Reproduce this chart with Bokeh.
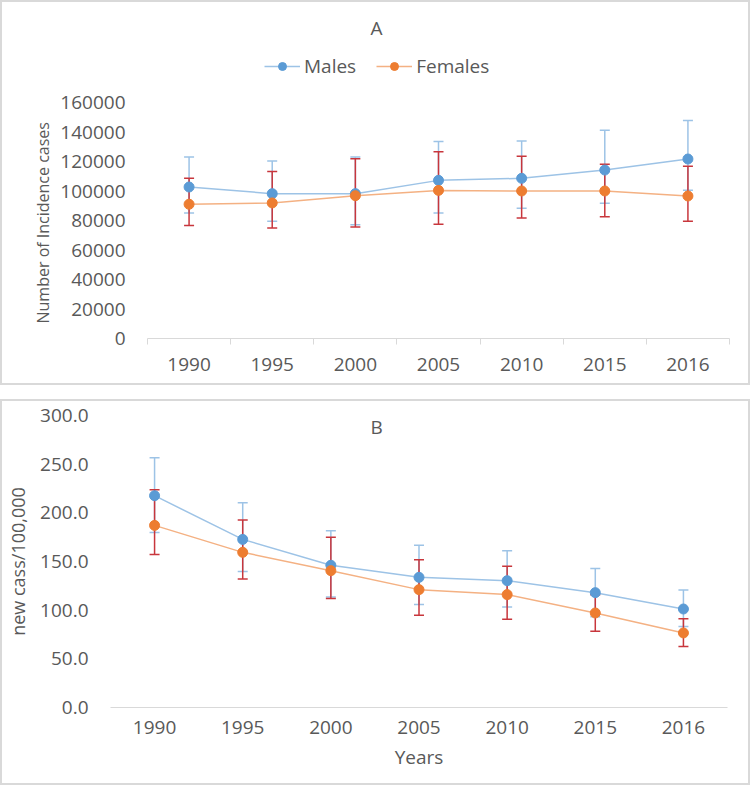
from bokeh.plotting import figure
from bokeh.models import (ColumnDataSource, Whisker, TeeHead, Legend, LegendItem, Label, Title,
                          FixedTicker, NumeralTickFormatter, Range1d)
from bokeh.layouts import column
from bokeh.embed import file_html
from bokeh.resources import INLINE

# ---------------- data ----------------
years = ["1990", "1995", "2000", "2005", "2010", "2015", "2016"]

# Panel A: number of incidence cases
males_cases = [102800, 98300, 98300, 107300, 108700, 114300, 121800]
males_cases_hi = [123200, 120400, 123200, 133600, 134000, 141300, 148000]
males_cases_lo = [85200, 79500, 77200, 85200, 88300, 91700, 100600]
females_cases = [91100, 92000, 96900, 100500, 100100, 100100, 96700]
females_cases_hi = [108700, 113400, 122000, 126800, 123600, 118200, 116900]
females_cases_lo = [76600, 75000, 75600, 77500, 81800, 82700, 79500]
ticks_a = [0, 20000, 40000, 60000, 80000, 100000, 120000, 140000, 160000]

# Panel B: new cases per 100,000
males_rate = [217.6, 172.7, 146.1, 133.7, 130.3, 118.0, 101.2]
males_rate_hi = [256.6, 210.4, 181.7, 166.6, 161.1, 142.7, 120.7]
males_rate_lo = [179.9, 139.6, 113.5, 105.7, 103.3, 93.3, 83.1]
females_rate = [187.1, 159.4, 140.6, 121.1, 116.0, 97.1, 76.6]
females_rate_hi = [223.7, 192.6, 174.8, 151.9, 145.0, 115.9, 91.3]
females_rate_lo = [157.3, 132.0, 111.9, 94.7, 90.6, 78.3, 62.6]
ticks_b = [0, 50, 100, 150, 200, 250, 300]

# ---------------- style ----------------
FONT = "Open Sans"
TXT = "#595959"
AXC = "#D9D9D9"
M_MARK, M_LINE, M_ERR = "#5B9BD5", "#9DC3E6", "#9DC3E6"
F_MARK, F_LINE, F_ERR = "#ED7D31", "#F4B183", "#C8363C"
FS = "19px"

xs = list(range(len(years)))
boundaries = [i - 0.5 for i in range(len(years) + 1)]
overrides = {i: y for i, y in zip(xs, years)}


def series(p, vals, lo, hi, errc):
    src = ColumnDataSource(dict(x=xs, y=vals, lo=lo, hi=hi))
    w = Whisker(base="x", upper="hi", lower="lo", source=src, level="underlay",
                line_color=errc, line_width=1.5,
                upper_head=TeeHead(size=10, line_color=errc, line_width=1.5),
                lower_head=TeeHead(size=10, line_color=errc, line_width=1.5))
    p.add_layout(w)
    return src


def style_common(p):
    p.background_fill_color = "white"
    p.border_fill_color = "white"
    p.outline_line_color = None
    p.xgrid.visible = False
    p.ygrid.visible = False
    ax = p.xaxis[0]
    ax.axis_line_color = AXC
    ax.axis_line_width = 1
    ax.major_tick_line_color = None
    ax.major_tick_out = 0
    ax.major_tick_in = 0
    ax.major_label_overrides = overrides
    ax.major_label_text_font = FONT
    ax.major_label_text_font_size = FS
    ax.major_label_text_color = TXT
    ay = p.yaxis[0]
    ay.axis_line_color = None
    ay.major_tick_line_color = None
    ay.minor_tick_line_color = None
    ay.major_tick_out = 0
    ay.major_tick_in = 0
    ay.major_label_standoff = 22
    ay.major_label_text_font = FONT
    ay.major_label_text_font_size = FS
    ay.major_label_text_color = TXT
    ay.axis_label_text_font = FONT
    ay.axis_label_text_font_size = "18px"
    ay.axis_label_text_font_style = "normal"
    ay.axis_label_text_color = TXT


BOX = {"border": "2px solid #D9D9D9"}

# ---------------- panel A ----------------
# the frame reaches the top of the panel so that title and legend sit inside it
A_TOP = 228000
pA = figure(width=746, height=381, output_backend="svg", toolbar_location=None,
            x_range=Range1d(-0.5, 6.5), y_range=Range1d(0, A_TOP), frame_align=False,
            min_border_left=145, min_border_right=19, min_border_top=0, min_border_bottom=45)
style_common(pA)
pA.xaxis.ticker = FixedTicker(ticks=xs, minor_ticks=boundaries)
pA.xaxis.minor_tick_line_color = AXC
pA.xaxis.minor_tick_out = 6
pA.xaxis.minor_tick_in = 0
pA.xaxis.major_label_standoff = 13
pA.yaxis.ticker = FixedTicker(ticks=ticks_a)
pA.yaxis.formatter = NumeralTickFormatter(format="0")
# y-axis title, laid along the 0..160000 span rather than the whole frame
pA.add_layout(Title(text="Number of Incidence cases", align="left", offset=15, standoff=7,
                    text_font=FONT, text_font_size="16px", text_font_style="normal",
                    text_color=TXT), "left")

srcAm = series(pA, males_cases, males_cases_lo, males_cases_hi, M_ERR)
srcAf = series(pA, females_cases, females_cases_lo, females_cases_hi, F_ERR)
lm = pA.line("x", "y", source=srcAm, line_color=M_LINE, line_width=1.5)
sm = pA.scatter("x", "y", source=srcAm, size=10, fill_color=M_MARK, line_color=M_MARK)
lf = pA.line("x", "y", source=srcAf, line_color=F_LINE, line_width=1.5)
sf = pA.scatter("x", "y", source=srcAf, size=10, fill_color=F_MARK, line_color=F_MARK)

legend = Legend(items=[LegendItem(label="Males", renderers=[lm, sm]),
                       LegendItem(label="Females", renderers=[lf, sf])],
                orientation="horizontal", location=(117, 259),
                glyph_width=36, glyph_height=20, label_standoff=4, spacing=20,
                padding=0, margin=0, border_line_color=None, background_fill_alpha=0,
                label_text_font=FONT, label_text_font_size=FS, label_text_color=TXT)
pA.add_layout(legend)
pA.add_layout(Label(x=2.255, y=211000, text="A", text_align="center", text_baseline="middle",
                    text_font=FONT, text_font_size=FS, text_color=TXT))

# ---------------- panel B ----------------
pB = figure(width=746, height=382, output_backend="svg", toolbar_location=None,
            x_range=Range1d(-0.5, 6.5), y_range=Range1d(0, 300), frame_align=False,
            min_border_left=108, min_border_right=21, min_border_top=14, min_border_bottom=76)
style_common(pB)
pB.xaxis.ticker = FixedTicker(ticks=xs)
pB.xaxis.minor_tick_line_color = None
pB.xaxis.major_label_standoff = 13
pB.xaxis.axis_label = "Years"
pB.xaxis.axis_label_standoff = 7
pB.xaxis.axis_label_text_font = FONT
pB.xaxis.axis_label_text_font_size = FS
pB.xaxis.axis_label_text_font_style = "normal"
pB.xaxis.axis_label_text_color = TXT
pB.yaxis.ticker = FixedTicker(ticks=ticks_b)
pB.yaxis.formatter = NumeralTickFormatter(format="0.0")
pB.yaxis.axis_label = "new cass/100,000"
pB.yaxis.axis_label_standoff = 7

srcBm = series(pB, males_rate, males_rate_lo, males_rate_hi, M_ERR)
srcBf = series(pB, females_rate, females_rate_lo, females_rate_hi, F_ERR)
pB.line("x", "y", source=srcBm, line_color=M_LINE, line_width=1.5)
pB.scatter("x", "y", source=srcBm, size=10, fill_color=M_MARK, line_color=M_MARK)
pB.line("x", "y", source=srcBf, line_color=F_LINE, line_width=1.5)
pB.scatter("x", "y", source=srcBf, size=10, fill_color=F_MARK, line_color=F_MARK)
pB.add_layout(Label(x=2.52, y=287.7, text="B", text_align="center", text_baseline="middle",
                    text_font=FONT, text_font_size=FS, text_color=TXT))

boxA = column(pA, styles=BOX)
boxB = column(pB, styles=BOX)
layout = column(boxA, boxB, spacing=14)
open("out.html", "w").write(file_html(layout, INLINE))
